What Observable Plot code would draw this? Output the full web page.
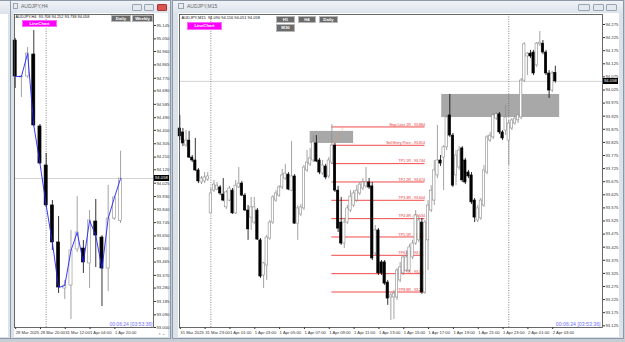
<!DOCTYPE html>
<html><head><meta charset="utf-8">
<script src="https://cdn.jsdelivr.net/npm/d3@7"></script>
<script src="https://cdn.jsdelivr.net/npm/@observablehq/plot@0.6"></script>
<style>
body{margin:0;background:#c7cdd5;}
#root{position:relative;width:625px;height:342px;overflow:hidden;background:#c7cdd5;font-family:"Liberation Sans",Arial,sans-serif;}
.win{position:absolute;background:#dbe2ea;border:1px solid #8d99a6;box-sizing:border-box;}
.tbar{position:absolute;left:0;right:0;top:0;height:13px;background:linear-gradient(#f0f3f7,#dde4ec);}
.title{position:absolute;font-size:5px;color:#666;white-space:nowrap;}
.wbtn{position:absolute;height:7px;background:#e4e9ef;border:1px solid #9aa5b2;box-sizing:border-box;border-radius:1px;}
.btn{position:absolute;background:#6b6b6b;color:#fff;font-weight:bold;font-size:4.3px;line-height:6px;text-align:center;border:1px solid #b8b8b8;box-sizing:border-box;white-space:nowrap;}
.mag{background:#ff00ff;border-color:#ff66ff;}
.tag{position:absolute;background:#000;color:#fff;font-size:4.2px;line-height:6px;height:6px;padding:0 1px;white-space:nowrap;}
svg{position:absolute;}
</style></head>
<body><div id="root"></div>
<script>
// ---------------- M15 chart data (AUDJPY,M15) ----------------
const m15Open  = [93.878,93.863,93.813,93.832,93.767,93.756,93.718,93.672,93.676,93.683,93.554,93.641,93.645,93.653,93.626,93.577,93.603,93.641,93.554,93.653,93.668,93.622,93.565,93.538,93.519,93.565,93.451,93.317,93.355,93.458,93.519,93.603,93.622,93.653,93.687,93.702,93.641,93.695,93.515,93.550,93.573,93.718,93.741,93.756,93.821,93.756,93.706,93.733,93.695,93.748,93.813,93.641,93.519,93.439,93.519,93.565,93.584,93.603,93.630,93.649,93.657,93.672,93.657,93.401,93.489,93.367,93.367,93.290,93.233,93.233,93.233,93.298,93.325,93.336,93.336,93.386,93.439,93.451,93.519,93.252,93.451,93.565,93.603,93.699,93.756,93.767,93.806,93.928,93.851,93.699,93.729,93.802,93.756,93.710,93.699,93.603,93.527,93.535,93.584,93.710,93.832,93.844,93.916,93.932,93.863,93.870,93.832,93.878,93.897,93.909,93.920,94.061,94.153,94.164,94.168,94.119,94.199,94.202,94.168,94.088,94.023,94.090];
const m15High  = [93.928,93.878,93.870,93.867,93.775,93.840,93.725,93.695,93.710,93.710,93.649,93.680,93.672,93.660,93.687,93.641,93.657,93.649,93.680,93.729,93.676,93.630,93.584,93.615,93.615,93.573,93.458,93.367,93.470,93.527,93.622,93.641,93.660,93.722,93.741,93.710,93.828,93.702,93.584,93.588,93.737,93.794,93.802,93.851,93.851,93.764,93.756,93.741,93.767,93.893,93.821,93.657,93.615,93.535,93.584,93.641,93.641,93.660,93.672,93.687,93.729,93.687,93.672,93.508,93.496,93.374,93.374,93.298,93.248,93.260,93.344,93.367,93.393,93.412,93.435,93.451,93.565,93.546,93.535,93.527,93.603,93.660,93.756,93.890,93.775,93.813,93.928,94.008,93.859,93.794,93.809,93.809,93.764,93.718,93.710,93.611,93.584,93.611,93.737,93.851,93.863,93.935,93.939,93.939,93.870,93.966,93.909,93.916,93.924,93.932,94.069,94.206,94.168,94.176,94.176,94.206,94.248,94.214,94.176,94.099,94.096,94.116];
const m15Low   = [93.832,93.809,93.806,93.764,93.748,93.714,93.668,93.664,93.668,93.676,93.554,93.634,93.641,93.622,93.599,93.569,93.599,93.550,93.550,93.649,93.618,93.561,93.451,93.489,93.512,93.451,93.306,93.267,93.298,93.451,93.512,93.596,93.615,93.645,93.680,93.641,93.638,93.512,93.451,93.542,93.565,93.710,93.733,93.748,93.748,93.702,93.699,93.683,93.687,93.741,93.634,93.481,93.432,93.420,93.512,93.557,93.577,93.596,93.622,93.641,93.649,93.645,93.374,93.393,93.317,93.317,93.279,93.203,93.145,93.149,93.222,93.290,93.317,93.328,93.328,93.378,93.432,93.443,93.245,93.245,93.336,93.557,93.584,93.687,93.733,93.641,93.794,93.844,93.653,93.660,93.718,93.672,93.664,93.687,93.588,93.519,93.519,93.527,93.577,93.702,93.825,93.836,93.909,93.855,93.832,93.851,93.737,93.870,93.890,93.897,93.912,94.054,94.080,94.145,94.080,94.111,94.191,94.160,94.080,93.993,94.015,94.051];
const m15Close = [93.848,93.821,93.832,93.767,93.756,93.718,93.676,93.687,93.691,93.695,93.630,93.664,93.660,93.630,93.603,93.634,93.649,93.554,93.660,93.668,93.622,93.565,93.493,93.577,93.577,93.454,93.313,93.363,93.462,93.519,93.615,93.630,93.653,93.699,93.706,93.645,93.695,93.515,93.573,93.577,93.729,93.748,93.764,93.825,93.752,93.710,93.737,93.691,93.756,93.813,93.641,93.496,93.439,93.519,93.573,93.618,93.630,93.641,93.664,93.672,93.672,93.653,93.382,93.489,93.325,93.325,93.286,93.229,93.241,93.248,93.336,93.348,93.386,93.386,93.424,93.439,93.546,93.527,93.252,93.519,93.584,93.641,93.718,93.756,93.744,93.806,93.920,93.851,93.660,93.775,93.794,93.680,93.672,93.695,93.596,93.538,93.573,93.603,93.718,93.844,93.851,93.928,93.932,93.863,93.840,93.920,93.897,93.909,93.916,93.928,94.061,94.199,94.164,94.153,94.088,94.202,94.206,94.168,94.088,94.023,94.088,94.058];
const m15TickIdx = [0,8,16,24,32,40,48,56,64,72,80,88,96,104,112,120];
const m15TickLabels = ["31 Mar 2025","31 Mar 23:00","1 Apr 01:00","1 Apr 03:00","1 Apr 05:00","1 Apr 07:00","1 Apr 09:00","1 Apr 11:00","1 Apr 13:00","1 Apr 15:00","1 Apr 17:00","1 Apr 19:00","1 Apr 21:00","1 Apr 23:00","2 Apr 01:00","2 Apr 03:00"];
const m15PriceTicks = [94.275,94.225,94.175,94.125,94.075,94.025,93.975,93.925,93.875,93.825,93.775,93.725,93.675,93.625,93.575,93.525,93.475,93.425,93.375,93.325,93.275,93.225,93.175,93.125];
const m15Separators = [10,106];
// supply / demand zones
const zoneStart = [42,84.4];
const zoneEnd   = [56,122.4];
const zoneTop   = [93.867,94.008];
const zoneBottom= [93.821,93.920];
// trade levels
const levelNames  = ["Stop Loss 1R","Sell Entry Price","TP1 1R","TP2 2R","TP3 3R","TP4 4R","TP5 5R","TP6 6R","TP7 7R","TP8 8R"];
const levelPrices = [93.884,93.814,93.744,93.674,93.604,93.534,93.464,93.394,93.324,93.254];
const levelStart = 49, levelEnd = 79;
const riskLink = {i1:49.6, p1:93.819, i2:52.8, p2:93.884};

// ---------------- H4 chart data (AUDJPY,H4) ----------------
const h4Open  = [95.038,94.776,94.783,94.939,94.428,94.151,93.867,93.604,93.277,93.298,93.554,93.561,93.455,93.753,93.639,93.419,93.774,93.758];
const h4High  = [95.053,94.783,94.989,95.109,94.442,94.236,93.902,93.788,93.334,93.689,93.930,93.618,93.831,93.909,93.653,94.009,93.930,94.252];
const h4Low   = [94.698,94.634,94.769,94.428,94.158,93.852,93.547,93.242,93.199,93.057,93.533,93.384,93.277,93.426,93.149,93.256,93.760,93.738];
const h4Close = [94.783,94.783,94.946,94.435,94.165,93.867,93.604,93.284,93.298,93.547,93.675,93.462,93.760,93.653,93.419,93.774,93.923,94.058];
const h4TickIdx = [0,4,8,12,16];
const h4TickLabels = ["28 Mar 2025","28 Mar 20:00","31 Mar 12:00","1 Apr 04:00","1 Apr 20:00"];
const h4PriceTicks = [95.145,95.050,94.960,94.865,94.770,94.680,94.585,94.490,94.400,94.305,94.210,94.120,94.025,93.930,93.840,93.745,93.650,93.560,93.465,93.370,93.280,93.185,93.090,93.000];
const h4Separators = [5];

const lastPrice = 94.058;
const m15Header = "AUDJPY,M15  94.090 94.116 94.051 94.058";
const h4Header = "AUDJPY,H4  93.758 94.252 93.738 94.058";
const timerText = "00:06:24 [03:53:36]";

// ---------------- build ----------------
const root = document.getElementById("root");
function div(cls, x, y, w, h, text, extra) {
  const d = document.createElement("div");
  d.className = cls;
  Object.assign(d.style, {left:x+"px", top:y+"px"});
  if (w != null) d.style.width = w+"px";
  if (h != null) d.style.height = h+"px";
  if (text) d.textContent = text;
  if (extra) Object.assign(d.style, extra);
  root.appendChild(d);
  return d;
}
// windows
div("win", -3, 0, 14, 339);
div("tbar", -2, 1, 12, 12);
div("", 0, 14, 8, 323, null, {position:"absolute", background:"#fff"});
div("win", 10, 0, 161, 339);
div("win", 172, 0, 452, 339);
div("tbar", 11, 1, 159, 12);
div("tbar", 173, 1, 450, 12);
div("title", 21, 3, null, null, "AUDJPY,H4");
div("title", 187, 3, null, null, "AUDJPY,M15");
div("", 13, 3, 5, 6, null, {position:"absolute", border:"1px solid #9aa5b2", boxSizing:"border-box"});
div("", 178, 3, 6, 6, null, {position:"absolute", border:"1px solid #9aa5b2", boxSizing:"border-box"});
div("wbtn", 132, 4, 10); div("wbtn", 144, 4, 10); div("wbtn", 157, 4, 10, null, null, {background:"#d9534f", borderColor:"#a33"});
div("wbtn", 578, 4, 12); div("wbtn", 593, 4, 11); div("wbtn", 606, 4, 11);

function candles(o,h,l,c){ return o.map((v,i)=>({i, o:v, h:h[i], l:l[i], c:c[i]})); }
const m15 = candles(m15Open, m15High, m15Low, m15Close);
const h4 = candles(h4Open, h4High, h4Low, h4Close);
const zones = zoneStart.map((s,k)=>({x1:s, x2:zoneEnd[k], y1:zoneBottom[k], y2:zoneTop[k]}));
const levels = levelNames.map((n,k)=>({name:n, p:levelPrices[k]}));
const bull = d => d.c >= d.o;

function candleMarks(data, half) {
  return [
    Plot.ruleX(data, {x:"i", y1:"l", y2:"h", stroke: d => bull(d) ? "#8c8c8c" : "#000", strokeWidth:0.8}),
    Plot.rect(data, {x1: d => d.i - half, x2: d => d.i + half, y1:"o", y2:"c",
      fill: d => bull(d) ? "#fff" : "#000", stroke: d => bull(d) ? "#8c8c8c" : "#000", strokeWidth:0.6})
  ];
}
function axes(priceTicks, tickIdx, tickLabels) {
  const lab = new Map(tickIdx.map((t,k)=>[t, tickLabels[k]]));
  return [
    Plot.axisY(priceTicks, {anchor:"right", tickSize:2, tickPadding:1, tickFormat: d => d.toFixed(3), fill:"#333"}),
    Plot.axisX(tickIdx, {anchor:"bottom", tickSize:2, tickPadding:1.5, tickFormat: d => lab.get(d), textAnchor:"start", dx:0.5, fill:"#333"}),
    Plot.frame({stroke:"#444", strokeWidth:0.8})
  ];
}

// right chart
const RX = 178, RY = 13, RW = 441, RH = 324, RML = 1, RMR = 17, RMT = 1, RMB = 10;
const right = Plot.plot({
  width:RW, height:RH, marginLeft:RML, marginRight:RMR, marginTop:RMT, marginBottom:RMB,
  x:{domain:[-0.1, 136.2], axis:null}, y:{domain:[93.1185, 94.3132], axis:null},
  color:{type:"identity"},
  style:{fontSize:"4.2px", fontFamily:"Liberation Sans", background:"#fff", color:"#333", overflow:"visible"},
  marks:[
    Plot.rect(zones, {x1:"x1", x2:"x2", y1:"y1", y2:"y2", fill:"#a8a8a8"}),
    Plot.ruleY([lastPrice], {stroke:"#c8c8c8", strokeWidth:0.8}),
    Plot.ruleX(m15Separators, {stroke:"#555", strokeDasharray:"1,1.4", strokeWidth:0.7}),
    Plot.ruleY(levels, {y:"p", x1:levelStart, x2:levelEnd, stroke:"#f03535", strokeWidth:0.9}),
    Plot.text(levels, {x:levelEnd, y:"p", text: d => `${d.name} - ${d.p.toFixed(3)}`, textAnchor:"end", dy:-2.3, fill:"#e83030", fontSize:3.6}),
    Plot.link([riskLink], {x1:"i1", y1:"p1", x2:"i2", y2:"p2", stroke:"#f08a50", strokeDasharray:"1,1", strokeWidth:0.7}),
    ...candleMarks(m15, 0.38),
    Plot.text([m15Header], {text: d => d, frameAnchor:"top-left", dx:2, dy:1.2, fill:"#111", fontSize:4}),
    Plot.text([timerText], {text: d => d, frameAnchor:"bottom-right", dx:-2, dy:-1.5, fill:"#6f6fff", fontSize:5.2}),
    ...axes(m15PriceTicks, m15TickIdx, m15TickLabels)
  ]
});
Object.assign(right.style, {left:RX+"px", top:RY+"px"});
root.appendChild(right);

// left chart
const LX = 14, LY = 13, LW = 154, LH = 324, LML = 0, LMR = 15, LMT = 1, LMB = 10;
const left = Plot.plot({
  width:LW, height:LH, marginLeft:LML, marginRight:LMR, marginTop:LMT, marginBottom:LMB,
  x:{domain:[-0.11, 22.31], axis:null}, y:{domain:[93.000, 95.2231], axis:null},
  color:{type:"identity"},
  style:{fontSize:"4.2px", fontFamily:"Liberation Sans", background:"#fff", color:"#333", overflow:"visible"},
  marks:[
    Plot.ruleY([lastPrice], {stroke:"#c8c8c8", strokeWidth:0.8}),
    Plot.ruleX(h4Separators, {stroke:"#555", strokeDasharray:"1,1.4", strokeWidth:0.7}),
    ...candleMarks(h4, 0.25),
    Plot.line(h4, {x:"i", y:"c", stroke:"#2323ff", strokeWidth:0.9}),
    Plot.text([h4Header], {text: d => d, frameAnchor:"top-left", dx:1, dy:1, fill:"#111", fontSize:3.9}),
    Plot.text([timerText], {text: d => d, frameAnchor:"bottom-right", dx:-1, dy:-1.5, fill:"#6f6fff", fontSize:5}),
    ...axes(h4PriceTicks, h4TickIdx, h4TickLabels)
  ]
});
Object.assign(left.style, {left:LX+"px", top:LY+"px"});
root.appendChild(left);

// current price tags on the price axes
div("tag", RX + RW - RMR + 1, RY + right.scale("y").apply(lastPrice) - 3, null, null, lastPrice.toFixed(3));
div("tag", LX + LW - LMR + 1, LY + left.scale("y").apply(lastPrice) - 3, null, null, lastPrice.toFixed(3));

// chart buttons
div("btn", 111, 15, 20, 7, "Daily");
div("btn", 132, 15, 21, 7, "Weekly");
div("btn mag", 22, 20, 35, 7, "LineChart");
div("btn", 276, 16, 19, 7, "H1");
div("btn", 298, 16, 18, 7, "H4");
div("btn", 319, 16, 19, 7, "Daily");
div("btn", 276, 24, 19, 8, "M30");
div("btn mag", 187, 22, 35, 8, "LineChart");
</script></body></html>
